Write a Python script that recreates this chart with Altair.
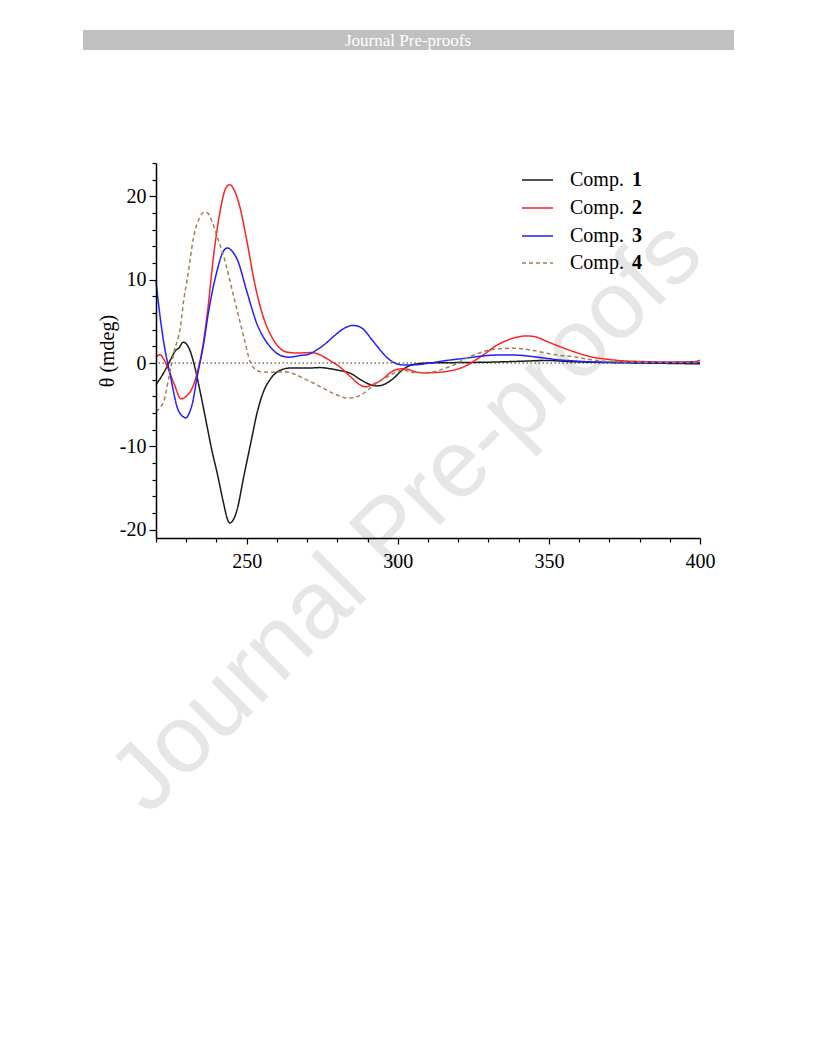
import altair as alt
import pandas as pd

# ---- data (wavelength nm, CD mdeg) ----
wl_1 = [220, 222.5, 224.8, 226.5, 227.6, 229.0, 230.9, 232.5, 234.7, 236.9, 238.5, 240.3,
        242.4, 243.6, 244.4, 245.6, 246.9, 249.0, 251.3, 253.5, 255.5, 257.9, 261.2, 264.5,
        267.8, 271, 274.4, 277, 280, 284.4, 287.7, 291, 293, 294.9, 298.7, 301, 303.1, 306.4,
        310, 320, 330, 340, 349.4, 358, 370, 380, 390, 400]
cd_1 = [-2.6, -1.2, 0.4, 1.5, 1.8, 2.5, 1.8, 0.0, -3.6, -7.6, -10.5, -13.3,
        -16.9, -18.7, -19.2, -18.8, -17.5, -13.7, -9.7, -5.9, -3.5, -1.9, -0.85, -0.6,
        -0.6, -0.6, -0.55, -0.65, -0.85, -1.25, -2.0, -2.6, -2.75, -2.65, -1.8, -1.0, -0.45, -0.1,
        0.0, 0.05, 0.1, 0.2, 0.3, 0.15, 0.05, 0.0, -0.05, -0.1]

wl_2 = [220, 221.3, 222.5, 223.7, 225.9, 228.3, 230.3, 232, 233.6, 235.3, 237, 239.1,
        241.3, 243, 244.4, 245.8, 247.4, 250.2, 252.4, 255.7, 258.5, 261.2, 263.5, 267,
        271.1, 273.5, 275.5, 278, 280, 284.4, 287, 289.3, 291.5, 294.3, 298.7, 301, 303.1,
        305.3, 308.6, 312, 316.4, 321.9, 327.4, 332.9, 338.4, 342.8, 346, 348.3, 352.7,
        358.3, 363.8, 369.3, 375, 380.3, 390, 398, 400]
cd_2 = [0.7, 1.0, 0.5, -0.4, -2.4, -4.3, -3.9, -3.0, -1.2, 1.6, 6.0, 13.0,
        18.4, 20.9, 21.4, 20.8, 19.2, 14.4, 10.0, 5.3, 3.0, 1.7, 1.3, 1.2,
        1.25, 1.1, 0.75, 0.2, -0.25, -1.65, -2.5, -2.85, -2.6, -2.1, -0.9, -0.7, -0.75,
        -1.0, -1.2, -1.15, -1.0, -0.45, 0.75, 2.15, 3.0, 3.25, 3.1, 2.75, 2.1,
        1.35, 0.75, 0.45, 0.25, 0.18, 0.12, 0.15, 0.35]

wl_3 = [220, 221.2, 222.6, 224.8, 227, 229.2, 229.9, 231, 232, 233.6, 235.8, 237.5,
        240.3, 242, 243.6, 245, 246.9, 250.2, 253.5, 255.7, 257.9, 261.2, 264, 267.8,
        270, 273.3, 276, 278.8, 282, 284.9, 286.5, 288.8, 291, 293.2, 295.5, 297.6, 300.9,
        303, 306.4, 310.8, 316, 321.9, 327, 332.9, 338.4, 344, 349.4, 352.7, 358.3, 365,
        375, 390, 400]
cd_3 = [9.8, 6.0, 2.4, -1.6, -5.3, -6.5, -6.6, -6.0, -4.9, -1.7, 2.4, 6.4,
        11.2, 13.2, 13.8, 13.5, 12.4, 8.4, 4.6, 3.0, 1.9, 0.9, 0.7, 0.9,
        1.0, 1.6, 2.3, 3.2, 4.1, 4.5, 4.45, 4.0, 3.0, 2.0, 1.0, 0.3, -0.2,
        -0.25, -0.2, 0.0, 0.3, 0.55, 0.8, 0.95, 0.95, 0.8, 0.55, 0.4, 0.25, 0.12,
        0.08, 0.05, 0.05]

wl_4 = [220, 221.5, 222.6, 224.2, 225.9, 228.1, 229.2, 230.3, 232.5, 234.5, 236, 237.1,
        238.5, 240.2, 242.4, 245.7, 249, 251.3, 253, 254.6, 258, 262.3, 265.5, 268.9,
        272, 275.5, 279, 283.3, 285.5, 287.7, 290, 292.1, 295, 297.6, 300, 302, 303.1,
        305.3, 308, 312, 315, 318.5, 321.5, 325.2, 331.8, 338.4, 345, 349.4, 352.7, 358.3,
        363.8, 369.3, 380, 390, 400]
cd_4 = [-5.8, -5.3, -4.6, -1.8, 1.2, 4.4, 7.6, 10.0, 15.2, 17.5, 18.1, 18.0,
        17.0, 15.2, 12.8, 8.0, 3.2, 0.0, -0.8, -1.05, -1.1, -1.05, -1.3, -1.85,
        -2.4, -3.05, -3.7, -4.2, -4.15, -3.85, -3.3, -2.65, -2.0, -1.45, -1.0, -0.85, -0.95,
        -1.15, -1.15, -1.05, -0.7, -0.25, 0.35, 0.96, 1.65, 1.77, 1.49, 1.17, 0.96, 0.76,
        0.4, 0.2, 0.1, 0.05, 0.05]

names = ["1", "2", "3", "4"]
colors = ["#1a1a1a", "#ff2020", "#2020ff", "#a08050"]
dashes = [[1, 0], [1, 0], [1, 0], [4, 3]]

x_ticks = list(range(220, 401, 10))
y_ticks = list(range(-20, 25, 2))
zero_level = [0]

frames = []
for n, xs, ys in zip(names, [wl_1, wl_2, wl_3, wl_4], [cd_1, cd_2, cd_3, cd_4]):
    frames.append(pd.DataFrame({"wl": xs, "cd": ys, "comp": n}))
df = pd.concat(frames, ignore_index=True)

FONT = "Liberation Serif"
dummy = pd.DataFrame({"a": [0]})

x_enc = alt.X(
    "wl:Q",
    scale=alt.Scale(domain=[220, 400], nice=False, zero=False),
    axis=alt.Axis(
        values=x_ticks,
        labelExpr="datum.value % 50 === 0 ? '' + datum.value : ''",
        tickSize={"condition": {"test": "datum.value % 50 === 0", "value": 6}, "value": 4},
        title=None, grid=False, labelOverlap=False, labelFlush=False,
        labelFont=FONT, labelFontSize=20, labelColor="black", labelPadding=7,
        domainColor="black", domainWidth=1.5, tickColor="black", tickWidth=1.2,
        zindex=1,
    ),
)
y_enc = alt.Y(
    "cd:Q",
    scale=alt.Scale(domain=[-21, 24], nice=False, zero=False),
    axis=alt.Axis(
        values=y_ticks,
        labelExpr="datum.value % 10 === 0 ? '' + datum.value : ''",
        tickSize={"condition": {"test": "datum.value % 10 === 0", "value": 7}, "value": 4},
        title="θ (mdeg)", titleFont=FONT, titleFontSize=20, titleFontWeight="normal",
        titleColor="black", titlePadding=2,
        grid=False, labelOverlap=False, labelFlush=False,
        labelFont=FONT, labelFontSize=20, labelColor="black", labelPadding=3,
        domainColor="black", domainWidth=1.5, tickColor="black", tickWidth=1.2,
        zindex=1,
    ),
)

watermark = alt.Chart(dummy).mark_text(
    text="Journal Pre-proofs", font="Liberation Sans", fontSize=96, angle=315,
    color="#e6e6e6", align="center", baseline="middle",
).encode(x=alt.value(251), y=alt.value(354))

header_bar = alt.Chart(dummy).mark_rect(color="#c0c0c0").encode(
    x=alt.value(-73), x2=alt.value(578), y=alt.value(-133), y2=alt.value(-113)
)
header_text = alt.Chart(dummy).mark_text(
    text="Journal Pre-proofs", font=FONT, fontSize=17, color="white",
    align="center", baseline="middle",
).encode(x=alt.value(252), y=alt.value(-122))

zero = alt.Chart(pd.DataFrame({"cd": zero_level})).mark_rule(
    color="#333333", strokeDash=[1.5, 2.5], strokeWidth=1.2
).encode(y=y_enc)

lines = alt.Chart(df).mark_line(strokeWidth=1.5, interpolate="monotone").encode(
    x=x_enc,
    y=y_enc,
    color=alt.Color("comp:N", scale=alt.Scale(domain=names, range=colors), legend=None),
    strokeDash=alt.StrokeDash("comp:N", scale=alt.Scale(domain=names, range=dashes), legend=None),
)

legend_y = [17, 45, 73, 100]
legend_layers = []
for i, n in enumerate(names):
    legend_layers.append(
        alt.Chart(dummy).mark_rule(color=colors[i], strokeWidth=1.5, strokeDash=dashes[i]).encode(
            x=alt.value(366), x2=alt.value(397), y=alt.value(legend_y[i])
        )
    )
    legend_layers.append(
        alt.Chart(dummy).mark_text(
            text="Comp.", font=FONT, fontSize=20, color="black", align="left", baseline="middle"
        ).encode(x=alt.value(414), y=alt.value(legend_y[i]))
    )
    legend_layers.append(
        alt.Chart(dummy).mark_text(
            text=n, font=FONT, fontSize=20, fontWeight="bold", color="black",
            align="left", baseline="middle"
        ).encode(x=alt.value(476), y=alt.value(legend_y[i]))
    )

chart = alt.layer(
    watermark, header_bar, header_text, zero, lines, *legend_layers
).properties(
    width=544, height=375,
    padding={"left": 148, "top": 155, "right": 108, "bottom": 500},
    autosize=alt.AutoSizeParams(type="none"),
    background="white",
).configure_view(stroke=None)

chart.save("out.html", embed_options={"renderer": "svg", "actions": False})
